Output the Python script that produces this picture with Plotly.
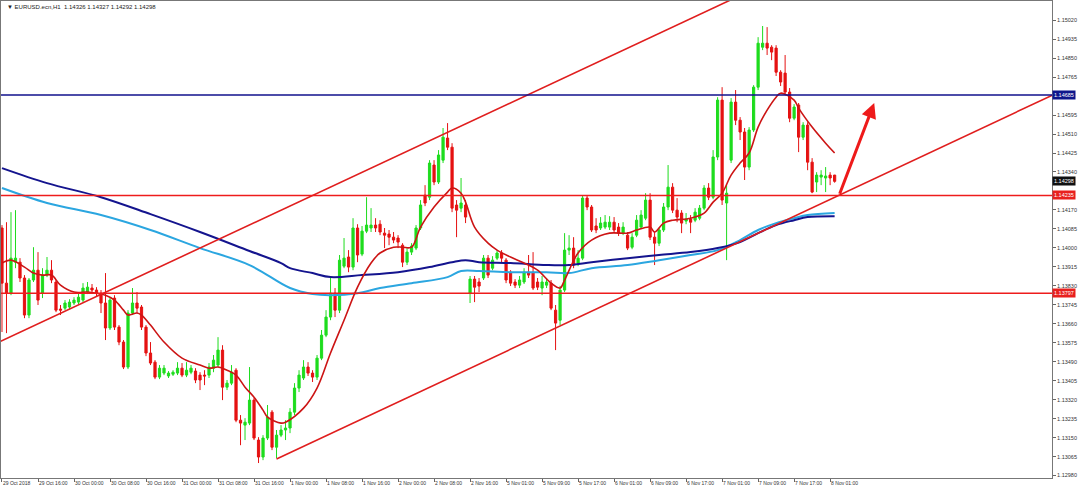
import plotly.graph_objects as go

# ---------------- data (EURUSD H1) ----------------
tick_labels = ["29 Oct 2018", "29 Oct 16:00", "30 Oct 00:00", "30 Oct 08:00", "30 Oct 16:00",
               "31 Oct 00:00", "31 Oct 08:00", "31 Oct 16:00", "1 Nov 00:00", "1 Nov 08:00",
               "1 Nov 16:00", "2 Nov 00:00", "2 Nov 08:00", "2 Nov 16:00", "5 Nov 01:00",
               "5 Nov 09:00", "5 Nov 17:00", "6 Nov 01:00", "6 Nov 09:00", "6 Nov 17:00",
               "7 Nov 01:00", "7 Nov 09:00", "7 Nov 17:00", "8 Nov 01:00"]

open_ = [1.14089,1.13842,1.13797,1.13936,1.13936,1.13865,1.13699,1.13856,1.13900,1.13797,
         1.13878,1.13900,1.13847,1.13726,1.13730,1.13735,1.13753,1.13757,1.13766,1.13802,
         1.13820,1.13811,1.13797,1.13753,1.13641,1.13775,1.13645,1.13578,1.13466,1.13708,
         1.13753,1.13735,1.13645,1.13529,1.13488,1.13421,1.13439,1.13426,1.13434,1.13439,
         1.13461,1.13430,1.13443,1.13448,1.13430,1.13430,1.13430,1.13461,1.13475,1.13542,
         1.13376,1.13394,1.13452,1.13228,1.13206,1.13215,1.13318,1.13139,1.13063,1.13148,
         1.13264,1.13107,1.13161,1.13184,1.13193,1.13264,1.13372,1.13417,1.13466,1.13439,
         1.13421,1.13506,1.13609,1.13690,1.13797,1.13721,1.13918,1.13959,1.13914,1.14089,
         1.13972,1.14075,1.14089,1.14102,1.14106,1.14066,1.14062,1.14048,1.14044,1.14012,
         1.13936,1.13981,1.13999,1.14089,1.14236,1.14227,1.14371,1.14295,1.14393,1.14492,
         1.14451,1.14192,1.14178,1.14192,1.13797,1.13860,1.13847,1.13865,1.13954,1.13909,
         1.13954,1.13977,1.13945,1.13891,1.13847,1.13833,1.13847,1.13891,1.13891,1.13847,
         1.13820,1.13833,1.13842,1.13721,1.13676,1.13811,1.13990,1.13999,1.13932,1.13954,
         1.14223,1.14183,1.14098,1.14089,1.14093,1.14093,1.14115,1.14093,1.14066,1.14057,
         1.14003,1.14057,1.14093,1.14133,1.14214,1.14048,1.14021,1.14080,1.14183,1.14272,
         1.14169,1.14156,1.14120,1.14129,1.14124,1.14133,1.14178,1.14268,1.14227,1.14407,
         1.14662,1.14201,1.14393,1.14653,1.14572,1.14519,1.14362,1.14528,1.14720,1.14899,
         1.14917,1.14899,1.14895,1.14787,1.14783,1.14698,1.14581,1.14640,1.14496,1.14550,
         1.14384,1.14295,1.14317,1.14313,1.14326,1.14326]

high_ = [1.14102,1.14115,1.14160,1.14169,1.13954,1.13878,1.13865,1.14003,1.13981,1.13909,
         1.13959,1.13945,1.13856,1.13744,1.13766,1.13770,1.13779,1.13797,1.13842,1.13847,
         1.13838,1.13824,1.13811,1.13887,1.13779,1.13788,1.13654,1.13587,1.13721,1.13820,
         1.13802,1.13744,1.13654,1.13578,1.13497,1.13475,1.13475,1.13448,1.13452,1.13488,
         1.13484,1.13488,1.13475,1.13461,1.13443,1.13452,1.13484,1.13520,1.13600,1.13564,
         1.13408,1.13475,1.13461,1.13251,1.13237,1.13466,1.13327,1.13152,1.13161,1.13296,
         1.13273,1.13184,1.13206,1.13228,1.13282,1.13394,1.13452,1.13497,1.13488,1.13452,
         1.13520,1.13632,1.13721,1.13869,1.13820,1.13968,1.14044,1.13990,1.14133,1.14106,
         1.14098,1.14227,1.14178,1.14133,1.14124,1.14089,1.14080,1.14071,1.14057,1.14021,
         1.13999,1.14021,1.14102,1.14214,1.14281,1.14393,1.14393,1.14438,1.14537,1.14559,
         1.14469,1.14214,1.14313,1.14214,1.13874,1.13874,1.13865,1.13968,1.13968,1.13963,
         1.13990,1.13990,1.13954,1.13900,1.13860,1.13874,1.13909,1.13968,1.13981,1.13865,
         1.13874,1.13865,1.13856,1.13744,1.13830,1.14066,1.14057,1.14048,1.13990,1.14236,
         1.14236,1.14192,1.14133,1.14138,1.14147,1.14142,1.14138,1.14111,1.14115,1.14071,
         1.14066,1.14147,1.14169,1.14245,1.14245,1.14071,1.14089,1.14201,1.14371,1.14290,
         1.14223,1.14169,1.14156,1.14147,1.14178,1.14192,1.14281,1.14290,1.14438,1.14675,
         1.14720,1.14281,1.14671,1.14707,1.14586,1.14537,1.14541,1.14729,1.14944,1.14994,
         1.14989,1.14908,1.14908,1.14796,1.14864,1.14716,1.14644,1.14649,1.14563,1.14563,
         1.14402,1.14339,1.14348,1.14362,1.14339,1.14327]

low_ = [1.13623,1.13618,1.13788,1.13909,1.13847,1.13685,1.13685,1.13847,1.13744,1.13775,
        1.13869,1.13842,1.13712,1.13699,1.13721,1.13726,1.13744,1.13748,1.13757,1.13793,
        1.13802,1.13784,1.13708,1.13587,1.13632,1.13632,1.13564,1.13457,1.13457,1.13699,
        1.13708,1.13632,1.13515,1.13475,1.13412,1.13412,1.13430,1.13417,1.13426,1.13430,
        1.13421,1.13421,1.13434,1.13394,1.13363,1.13385,1.13417,1.13443,1.13466,1.13318,
        1.13363,1.13385,1.13219,1.13116,1.13139,1.13206,1.13139,1.13036,1.13049,1.13139,
        1.13094,1.13058,1.13152,1.13139,1.13170,1.13251,1.13354,1.13408,1.13426,1.13399,
        1.13408,1.13497,1.13600,1.13676,1.13690,1.13708,1.13909,1.13891,1.13900,1.13936,
        1.13963,1.14066,1.14071,1.14071,1.14057,1.13999,1.14012,1.14021,1.13999,1.13914,
        1.13923,1.13968,1.13990,1.14080,1.14187,1.14214,1.14281,1.14286,1.14380,1.14438,
        1.14160,1.14048,1.14160,1.14111,1.13753,1.13757,1.13802,1.13856,1.13865,1.13900,
        1.13945,1.13936,1.13842,1.13829,1.13820,1.13820,1.13838,1.13865,1.13811,1.13811,
        1.13788,1.13820,1.13721,1.13542,1.13654,1.13802,1.13968,1.13909,1.13918,1.13945,
        1.14169,1.14071,1.14066,1.14080,1.14084,1.14080,1.14071,1.14053,1.14057,1.13990,
        1.13994,1.14048,1.14084,1.14124,1.14035,1.13923,1.14008,1.14071,1.14169,1.14156,
        1.14115,1.14066,1.14106,1.14066,1.14115,1.14124,1.14169,1.14214,1.14218,1.14393,
        1.14192,1.13945,1.14380,1.14550,1.14483,1.14304,1.14348,1.14519,1.14707,1.14886,
        1.14864,1.14841,1.14770,1.14725,1.14684,1.14563,1.14572,1.14429,1.14483,1.14348,
        1.14245,1.14250,1.14281,1.14250,1.14281,1.14292]

close_ = [1.13842,1.13797,1.13954,1.13954,1.13865,1.13699,1.13856,1.13900,1.13766,1.13878,
          1.13900,1.13856,1.13721,1.13721,1.13753,1.13757,1.13766,1.13779,1.13820,1.13824,
          1.13811,1.13797,1.13753,1.13641,1.13766,1.13645,1.13578,1.13466,1.13708,1.13753,
          1.13730,1.13645,1.13529,1.13484,1.13421,1.13461,1.13461,1.13439,1.13443,1.13461,
          1.13430,1.13452,1.13461,1.13408,1.13408,1.13426,1.13466,1.13497,1.13542,1.13376,
          1.13394,1.13443,1.13228,1.13215,1.13219,1.13318,1.13148,1.13063,1.13148,1.13242,
          1.13107,1.13161,1.13184,1.13193,1.13264,1.13372,1.13430,1.13466,1.13439,1.13421,
          1.13506,1.13609,1.13690,1.13797,1.13721,1.13945,1.13954,1.13914,1.14089,1.13968,
          1.14075,1.14102,1.14102,1.14089,1.14071,1.14057,1.14048,1.14035,1.14026,1.13936,
          1.13981,1.14008,1.14089,1.14192,1.14201,1.14380,1.14295,1.14416,1.14496,1.14451,
          1.14178,1.14169,1.14201,1.14138,1.13860,1.13824,1.13829,1.13954,1.13878,1.13945,
          1.13977,1.13954,1.13856,1.13842,1.13833,1.13856,1.13891,1.13878,1.13820,1.13824,
          1.13847,1.13847,1.13730,1.13663,1.13811,1.13990,1.13999,1.13923,1.13954,1.14223,
          1.14183,1.14080,1.14080,1.14111,1.14115,1.14115,1.14080,1.14066,1.14093,1.13999,
          1.14048,1.14124,1.14147,1.14214,1.14048,1.14021,1.14080,1.14183,1.14272,1.14169,
          1.14138,1.14111,1.14129,1.14115,1.14160,1.14178,1.14268,1.14227,1.14407,1.14662,
          1.14214,1.14245,1.14653,1.14572,1.14519,1.14362,1.14528,1.14720,1.14917,1.14917,
          1.14895,1.14877,1.14787,1.14743,1.14698,1.14581,1.14631,1.14496,1.14550,1.14384,
          1.14250,1.14326,1.14326,1.14322,1.14313,1.14298]

# fast (red) moving average read at bar indices
ma_fast_bar = [0,2,5,7,9,11,13,16,19,21,23,25,27,28,30,31,33,36,40,44,46,48,50,52,54,56,58,59,
               62,63,67,70,73,76,79,82,84,87,89,91,93,96,99,100,102,103,105,108,110,113,116,119,
               122,124,125,128,131,135,139,141,144,145,147,149,153,156,158,160,162,164,166,168,
               170,172,173,176,177,180,183,185]
ma_fast_val = [1.13932,1.13945,1.13914,1.13887,1.13878,1.13878,1.13833,1.13802,1.13802,1.13797,
               1.13788,1.13766,1.13721,1.13699,1.13708,1.13699,1.13654,1.13578,1.13506,1.13475,
               1.13461,1.13466,1.13452,1.13430,1.13376,1.13331,1.13273,1.13242,1.13215,1.13219,
               1.13282,1.13372,1.13529,1.13676,1.13824,1.13932,1.13977,1.14003,1.14003,1.14003,
               1.14093,1.14183,1.14250,1.14268,1.14245,1.14205,1.14093,1.14021,1.13990,1.13959,
               1.13932,1.13900,1.13842,1.13820,1.13856,1.13977,1.14035,1.14066,1.14066,1.14080,
               1.14093,1.14071,1.14111,1.14124,1.14133,1.14156,1.14205,1.14245,1.14326,1.14380,
               1.14425,1.14541,1.14617,1.14675,1.14693,1.14662,1.14626,1.14541,1.14469,1.14425]

# slow navy moving average
ma_navy_bar = [0,10,22,33,44,55,62,64,69,73,80,88,95,100,103,106,113,121,126,131,139,146,153,
               159,164,168,172,176,179,185]
ma_navy_val = [1.14357,1.14290,1.14227,1.14151,1.14071,1.13986,1.13932,1.13909,1.13887,1.13869,
               1.13878,1.13891,1.13914,1.13936,1.13945,1.13936,1.13932,1.13923,1.13923,1.13936,
               1.13954,1.13968,1.13981,1.13999,1.14026,1.14066,1.14102,1.14124,1.14138,1.14142]

# slow light-blue moving average
ma_sky_bar = [0,10,22,33,44,55,64,69,73,79,84,91,99,102,106,113,121,126,131,139,146,153,159,
              164,168,172,176,179,185]
ma_sky_val = [1.14268,1.14201,1.14147,1.14080,1.13999,1.13923,1.13820,1.13793,1.13788,1.13797,
              1.13820,1.13842,1.13869,1.13896,1.13896,1.13891,1.13891,1.13887,1.13909,1.13923,
              1.13945,1.13968,1.13990,1.14035,1.14080,1.14111,1.14133,1.14147,1.14156]

# drawn objects (bar index, price)
channel_upper_bar = [-1, 165]
channel_upper_px = [1.13575, 1.15140]
channel_lower_bar = [61, 234]
channel_lower_px = [1.13054, 1.14690]
level_blue = 1.14685
level_red_hi = 1.14235
level_red_lo = 1.13797
last_price = 1.14298
arrow_from = (186, 1.14236)
arrow_to = (193.8, 1.14649)

# right-axis tick labels (the ones at 1.14255 and 1.14680 are hidden under the price boxes)
y_ticks = [1.12980, 1.13065, 1.13150, 1.13235, 1.13320, 1.13405, 1.13490, 1.13575, 1.13660,
           1.13745, 1.13830, 1.13915, 1.14000, 1.14085, 1.14170, 1.14340, 1.14425,
           1.14510, 1.14595, 1.14765, 1.14850, 1.14935, 1.15020]

# ---------------- figure ----------------
bars = list(range(len(close_)))
tick_pos = bars[::8][:len(tick_labels)]

GREEN = "#1EDC1E"
RED = "#E51212"
FONT = "Liberation Sans, Arial, sans-serif"

fig = go.Figure()
fig.add_trace(go.Candlestick(
    x=bars, open=open_, high=high_, low=low_, close=close_,
    increasing=dict(line=dict(color=GREEN, width=1), fillcolor=GREEN),
    decreasing=dict(line=dict(color=RED, width=1), fillcolor=RED),
    whiskerwidth=0, showlegend=False, hoverinfo="skip"))

fig.add_trace(go.Scatter(x=ma_sky_bar, y=ma_sky_val, mode="lines",
                         line=dict(color="#2BA6E0", width=2, shape="spline", smoothing=1),
                         showlegend=False, hoverinfo="skip"))
fig.add_trace(go.Scatter(x=ma_navy_bar, y=ma_navy_val, mode="lines",
                         line=dict(color="#14148E", width=2, shape="spline", smoothing=1),
                         showlegend=False, hoverinfo="skip"))
fig.add_trace(go.Scatter(x=ma_fast_bar, y=ma_fast_val, mode="lines",
                         line=dict(color="#CC1414", width=1.6, shape="spline", smoothing=1),
                         showlegend=False, hoverinfo="skip"))

fig.add_trace(go.Scatter(x=channel_upper_bar, y=channel_upper_px, mode="lines",
                         line=dict(color="#E01E1E", width=1.6), showlegend=False, hoverinfo="skip"))
fig.add_trace(go.Scatter(x=channel_lower_bar, y=channel_lower_px, mode="lines",
                         line=dict(color="#E01E1E", width=1.6), showlegend=False, hoverinfo="skip"))

fig.add_hline(y=level_blue, line=dict(color="#10108C", width=1.5))
fig.add_hline(y=level_red_hi, line=dict(color="#EE1C1C", width=1.5))
fig.add_hline(y=level_red_lo, line=dict(color="#EE1C1C", width=1.5))

fig.add_annotation(x=arrow_to[0], y=arrow_to[1], ax=arrow_from[0], ay=arrow_from[1],
                   xref="x", yref="y", axref="x", ayref="y", text="", showarrow=True,
                   arrowhead=2, arrowsize=1, arrowwidth=3, arrowcolor="#EE1A1A")

# right-axis price boxes
for val, bg in [(level_blue, "#0E168C"), (last_price, "#111111"),
                (level_red_hi, "#E8201E"), (level_red_lo, "#E8201E")]:
    fig.add_annotation(x=1, xref="paper", y=val, yref="y", xanchor="left", xshift=0,
                       text=f"{val:.5f}", showarrow=False, bgcolor=bg, borderpad=1,
                       font=dict(family=FONT, size=5.5, color="white"))

fig.add_annotation(x=0, xref="paper", y=1, yref="paper", xanchor="left", yanchor="top",
                   xshift=4, yshift=-1, showarrow=False,
                   text="▼ EURUSD.ecn,H1  1.14326 1.14327 1.14292 1.14298",
                   font=dict(family=FONT, size=6, color="#222222"))

fig.update_layout(
    width=1080, height=489,
    margin=dict(l=1, r=28, t=1, b=11, autoexpand=False),
    plot_bgcolor="white", paper_bgcolor="white",
    font=dict(family=FONT, color="#333333"),
    xaxis=dict(range=[-0.22, 233.3], tickvals=tick_pos, ticktext=tick_labels,
               tickfont=dict(size=5), tickangle=0, ticks="outside", ticklen=3, tickcolor="#666666",
               ticklabelposition="outside right", automargin=False,
               showline=True, linecolor="#777777", linewidth=1, mirror=True,
               showgrid=False, zeroline=False, rangeslider=dict(visible=False)),
    yaxis=dict(side="right", range=[1.12969, 1.15106], tickvals=y_ticks, tickformat=".5f",
               tickfont=dict(size=5.5), ticks="outside", ticklen=3, tickcolor="#666666",
               automargin=False,
               showline=True, linecolor="#777777", linewidth=1, mirror=True,
               showgrid=False, zeroline=False),
)

fig.write_html("out.html", config={"displayModeBar": False},
               post_script="document.body.style.margin='0';document.body.style.padding='0';")
